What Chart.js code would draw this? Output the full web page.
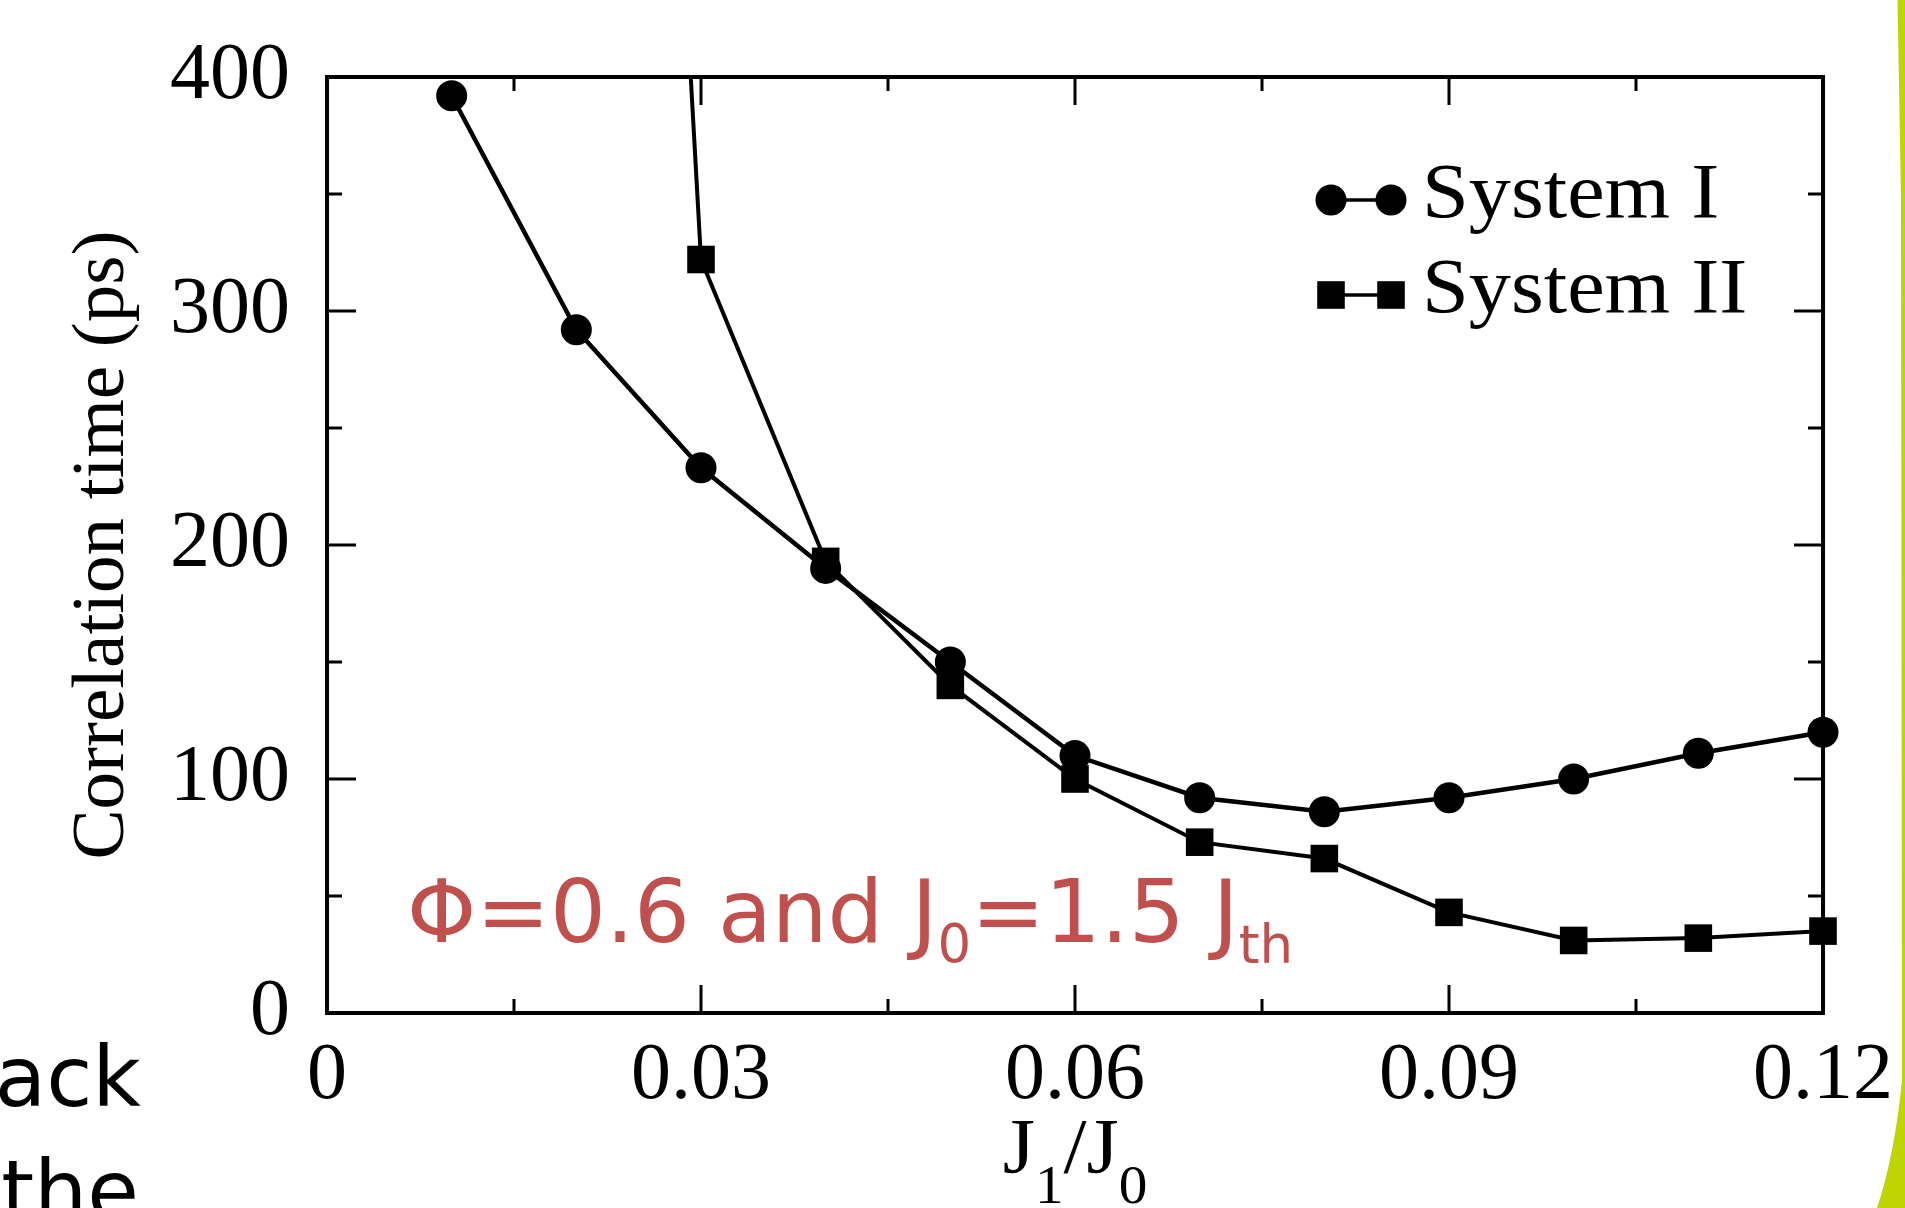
<!DOCTYPE html>
<html>
<head>
<meta charset="utf-8">
<title>Correlation time vs J1/J0</title>
<script src="https://cdn.jsdelivr.net/npm/chart.js@4.4.1/dist/chart.umd.min.js"></script>
<style>
  html, body { margin: 0; padding: 0; background: #fff; }
  #wrap { position: relative; width: 1905px; height: 1208px; }
</style>
</head>
<body>
<div id="wrap"><canvas id="corrChart"></canvas></div>
<script>
// data
const xValues = [0.01, 0.02, 0.03, 0.04, 0.05, 0.06, 0.07, 0.08, 0.09, 0.10, 0.11, 0.12];
const systemI = [392, 292, 233, 190, 150, 110, 92, 86, 92, 100, 111, 120];
const systemII = [null, 1270, 322, 193, 140, 100, 73, 66, 43, 31, 32, 35];
const seriesNames = ['System I', 'System II'];

const xTicks = [0, 0.03, 0.06, 0.09, 0.12];
const xTickLabels = ['0', '0.03', '0.06', '0.09', '0.12'];
const xMinorTicks = [0.015, 0.045, 0.075, 0.105];
const yTicks = [0, 100, 200, 300, 400];
const yTickLabels = ['0', '100', '200', '300', '400'];
const yMinorTicks = [50, 150, 250, 350];

const SERIF = '"Liberation Serif", "Times New Roman", serif';
const SANS = '"DejaVu Sans", Verdana, sans-serif';
const RED = '#c0504d';

// draws a list of text runs (for subscripts), returns end x
function drawRuns(ctx, runs, x, y, measureOnly) {
    runs.forEach(r => {
        ctx.font = r.size + 'px ' + r.family;
        if (!measureOnly) ctx.fillText(r.text, x, y + (r.dy || 0));
        x += ctx.measureText(r.text).width;
    });
    return x;
}

const figurePlugin = {
    id: 'figure',
    beforeDraw(chart) {
        const ctx = chart.ctx;
        ctx.save();
        ctx.fillStyle = '#fff';
        ctx.fillRect(0, 0, chart.width, chart.height);

        // slide frame on the right
        ctx.fillStyle = '#bfd500';
        ctx.beginPath();
        ctx.moveTo(1905, 0);
        ctx.lineTo(1897.5, 0);
        ctx.lineTo(1901, 200);
        ctx.lineTo(1902, 1080);
        ctx.quadraticCurveTo(1894.5, 1156, 1877, 1208);
        ctx.lineTo(1905, 1208);
        ctx.closePath();
        ctx.fill();

        // slide text peeking out behind the figure
        ctx.fillStyle = '#000';
        ctx.font = '84px ' + SANS;
        ctx.textAlign = 'right';
        ctx.textBaseline = 'alphabetic';
        ctx.fillText('ack', 141, 1106);
        ctx.fillText('the', 139, 1220);
        ctx.restore();
    },
    beforeDatasetsDraw(chart) {
        const {ctx, chartArea: a, scales: {x, y}} = chart;
        ctx.save();
        ctx.strokeStyle = '#000';
        ctx.lineWidth = 3;
        ctx.beginPath();
        const xMark = (v, len) => {
            const p = x.getPixelForValue(v);
            ctx.moveTo(p, a.bottom); ctx.lineTo(p, a.bottom - len);
            ctx.moveTo(p, a.top); ctx.lineTo(p, a.top + len);
        };
        const yMark = (v, len) => {
            const p = y.getPixelForValue(v);
            ctx.moveTo(a.left, p); ctx.lineTo(a.left + len, p);
            ctx.moveTo(a.right, p); ctx.lineTo(a.right - len, p);
        };
        xTicks.forEach(v => xMark(v, 28));
        xMinorTicks.forEach(v => xMark(v, 14));
        yTicks.forEach(v => yMark(v, 29));
        yMinorTicks.forEach(v => yMark(v, 15));
        ctx.stroke();

        ctx.lineWidth = 4;
        ctx.strokeRect(a.left, a.top, a.right - a.left, a.bottom - a.top);
        ctx.restore();
    },
    afterDraw(chart) {
        const {ctx, chartArea: a} = chart;
        ctx.save();
        ctx.textAlign = 'left';
        ctx.textBaseline = 'alphabetic';

        // legend
        const rows = [{y: 200}, {y: 295}];
        chart.data.datasets.forEach((ds, i) => {
            const cy = rows[i].y;
            const x1 = 1331, x2 = 1391;
            ctx.strokeStyle = '#000';
            ctx.fillStyle = '#000';
            ctx.lineWidth = 3.5;
            ctx.beginPath();
            ctx.moveTo(x1, cy); ctx.lineTo(x2, cy);
            ctx.stroke();
            [x1, x2].forEach(px => Chart.helpers.drawPoint(ctx, {
                pointStyle: ds.pointStyle, radius: ds.pointRadius, rotation: 0, borderWidth: 0
            }, px, cy));
            ctx.save();
            ctx.translate(1422, cy + 17);
            ctx.scale(1.08, 1);
            ctx.font = '78px ' + SERIF;
            ctx.fillText(ds.label, 0, 0);
            ctx.restore();
        });

        // x axis title J1/J0
        const title = [
            {text: 'J', size: 78, family: SERIF},
            {text: '1', size: 54, family: SERIF, dy: 31},
            {text: '/', size: 78, family: SERIF},
            {text: 'J', size: 78, family: SERIF},
            {text: '0', size: 54, family: SERIF, dy: 31}
        ];
        ctx.fillStyle = '#000';
        const w = drawRuns(ctx, title, 0, 0, true) * 1.06;
        ctx.save();
        ctx.translate((a.left + a.right) / 2 - w / 2, 1172);
        ctx.scale(1.06, 1);
        drawRuns(ctx, title, 0, 0);
        ctx.restore();

        // annotation
        ctx.fillStyle = RED;
        drawRuns(ctx, [
            {text: 'Φ=0.6 and J', size: 88, family: SANS},
            {text: '0', size: 53, family: SANS, dy: 20},
            {text: '=1.5 J', size: 88, family: SANS},
            {text: 'th', size: 53, family: SANS, dy: 21}
        ], 407, 942);
        ctx.restore();
    }
};

document.addEventListener('DOMContentLoaded', () => {
    const ctx = document.getElementById('corrChart').getContext('2d');

    new Chart(ctx, {
        type: 'line',
        data: {
            datasets: [{
                label: seriesNames[0],
                data: xValues.map((v, i) => ({x: v, y: systemI[i]})),
                borderColor: '#000',
                backgroundColor: '#000',
                borderWidth: 4.5,
                pointStyle: 'circle',
                pointRadius: 15.5,
                pointBorderWidth: 0,
                clip: {left: 30, top: 2, right: 30, bottom: 30}
            }, {
                label: seriesNames[1],
                data: xValues.map((v, i) => ({x: v, y: systemII[i]})),
                borderColor: '#000',
                backgroundColor: '#000',
                borderWidth: 4,
                pointStyle: 'rect',
                pointRadius: 19.5,
                pointBorderWidth: 0,
                clip: {left: 30, top: 2, right: 30, bottom: 30}
            }]
        },
        options: {
            responsive: true,
            maintainAspectRatio: false,
            animation: false,
            events: [],
            layout: { padding: { top: 72, right: 82, left: 0, bottom: 0 } },
            plugins: { legend: false, tooltip: { enabled: false } },
            scales: {
                x: {
                    type: 'linear',
                    min: 0,
                    max: 0.12,
                    afterBuildTicks: s => { s.ticks = xTicks.map(v => ({value: v})); },
                    afterFit: s => { s.height = 195; },
                    grid: { display: false },
                    border: { display: false },
                    ticks: {
                        autoSkip: false,
                        maxRotation: 0,
                        padding: 8,
                        color: '#000',
                        font: { family: SERIF, size: 80 },
                        callback: (v, i) => xTickLabels[i]
                    }
                },
                y: {
                    min: 0,
                    max: 400,
                    afterBuildTicks: s => { s.ticks = yTicks.map(v => ({value: v})); },
                    afterFit: s => { s.width = 327; },
                    grid: { display: false },
                    border: { display: false },
                    ticks: {
                        padding: 29,
                        color: '#000',
                        font: { family: SERIF, size: 80 },
                        callback: (v, i) => yTickLabels[i]
                    },
                    title: {
                        display: true,
                        text: 'Correlation time (ps)',
                        color: '#000',
                        padding: { top: 58 },
                        font: { family: SERIF, size: 75 }
                    }
                }
            }
        },
        plugins: [figurePlugin]
    });
});
</script>
</body>
</html>
